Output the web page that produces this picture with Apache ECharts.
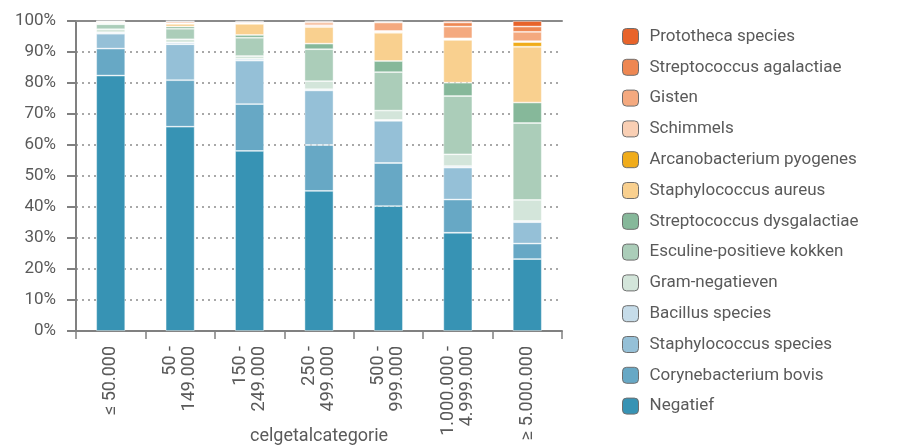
<!DOCTYPE html>
<html>
<head>
<meta charset="utf-8">
<script src="https://cdn.jsdelivr.net/npm/echarts@6/dist/echarts.min.js"></script>
<style>
  html, body { margin: 0; padding: 0; background: #fff; }
  #chart { width: 906px; height: 445px; }
</style>
</head>
<body>
<div id="chart"></div>
<script>
// Cell count categories (x axis)
const categories = ['≤ 50.000', '50 -\n149.000', '150 -\n249.000', '250 -\n499.000', '500 -\n999.000', '1.000.000 -\n4.999.000', '≥ 5.000.000'];

// Share of each pathogen group per category (%), bottom of the stack first
const negatief      = [82.4, 65.9, 58.1, 45.2, 40.3, 31.7, 23.2];
const coryneBovis   = [8.7, 15.0, 15.1, 14.8, 13.9, 10.7, 5.0];
const staphSpecies  = [4.8, 11.6, 14.0, 17.6, 13.6, 10.3, 6.9];
const bacillus      = [0.45, 0.6, 0.6, 0.4, 0.3, 0.5, 0.4];
const gramNeg       = [1.0, 1.0, 0.9, 2.6, 3.0, 3.8, 6.8];
const esculine      = [1.6, 3.4, 5.9, 10.3, 12.4, 18.8, 24.8];
const dysgalactiae  = [0.3, 0.7, 0.9, 1.8, 3.6, 4.3, 6.6];
const aureus        = [0.4, 0.9, 3.6, 5.4, 9.1, 13.8, 18.0];
const arcanobact    = [0.05, 0.05, 0.1, 0.05, 0.3, 0.2, 1.5];
const schimmels     = [0.05, 0.1, 0.1, 0.5, 0.3, 0.3, 0.3];
const gisten        = [0.1, 0.5, 0.2, 0.8, 2.7, 3.8, 3.0];
const agalactiae    = [0.1, 0.2, 0.3, 0.4, 0.3, 1.3, 1.7];
const prototheca    = [0.05, 0.05, 0.2, 0.15, 0.2, 0.5, 1.8];

// Y axis tick labels
const yTicks = ['0%', '10%', '20%', '30%', '40%', '50%', '60%', '70%', '80%', '90%', '100%'];

const seriesDefs = [
  ['Negatief', negatief, '#3793b4'],
  ['Corynebacterium bovis', coryneBovis, '#67a8c5'],
  ['Staphylococcus species', staphSpecies, '#95c0d7'],
  ['Bacillus species', bacillus, '#c6dce9'],
  ['Gram-negatieven', gramNeg, '#d3e5da'],
  ['Esculine-positieve kokken', esculine, '#abcdb9'],
  ['Streptococcus dysgalactiae', dysgalactiae, '#86b89a'],
  ['Staphylococcus aureus', aureus, '#f9d08f'],
  ['Arcanobacterium pyogenes', arcanobact, '#f0ac1a'],
  ['Schimmels', schimmels, '#f9cfb4'],
  ['Gisten', gisten, '#f4a97f'],
  ['Streptococcus agalactiae', agalactiae, '#ee8752'],
  ['Prototheca species', prototheca, '#e8632a']
];

const FONT = 'Roboto, "DejaVu Sans", sans-serif';
const TXT = '#5a5a5a';

const chart = echarts.init(document.getElementById('chart'), null, { renderer: 'canvas' });

chart.setOption({
  animation: false,
  textStyle: { fontFamily: FONT },
  grid: { left: 76, right: 344, top: 21, bottom: 114, containLabel: false, outerBoundsMode: 'none' },
  legend: {
    orient: 'vertical',
    left: 617,
    top: 23,
    itemWidth: 16,
    itemHeight: 16,
    itemGap: 13.8,
    data: seriesDefs.map(d => d[0]).reverse(),
    textStyle: { fontFamily: FONT, fontSize: 17, color: TXT, padding: [0, 0, 0, 6] },
    itemStyle: { borderColor: '#6e6e6e', borderWidth: 1 }
  },
  xAxis: [
    {
      type: 'category',
      data: categories,
      position: 'bottom',
      name: 'celgetalcategorie',
      nameLocation: 'middle',
      nameGap: 96,
      nameMoveOverlap: false,
      nameTextStyle: { fontFamily: FONT, fontSize: 18, color: TXT },
      axisLine: { lineStyle: { color: '#808080', width: 2 } },
      axisTick: { show: true, alignWithLabel: false, length: 8, lineStyle: { color: '#808080', width: 1.5 } },
      axisLabel: {
        rotate: 90,
        interval: 0,
        margin: 15,
        fontFamily: FONT,
        fontSize: 18,
        lineHeight: 19,
        color: TXT
      }
    },
    {
      type: 'category',
      data: categories,
      position: 'top',
      axisLine: { show: true, lineStyle: { color: '#8a8a8a', width: 2 } },
      axisTick: { show: false },
      axisLabel: { show: false }
    }
  ],
  yAxis: {
    type: 'value',
    min: 0,
    max: 100,
    interval: 10,
    axisLine: { show: true, lineStyle: { color: '#808080', width: 2 } },
    axisTick: { show: true, inside: false, length: 9, lineStyle: { color: '#808080', width: 2 } },
    axisLabel: {
      margin: 20,
      fontFamily: FONT,
      fontSize: 17,
      color: TXT,
      formatter: (v) => yTicks[Math.round(v / 10)]
    },
    splitLine: { show: true, lineStyle: { color: '#8c8c8c', type: [2, 4], width: 1.5 } }
  },
  series: seriesDefs.map(([name, values, color]) => ({
    name,
    type: 'bar',
    stack: 'total',
    barWidth: 29,
    data: values,
    itemStyle: { color, borderColor: 'rgba(255,255,255,0.55)', borderWidth: 0.8 }
  }))
});
</script>
</body>
</html>
